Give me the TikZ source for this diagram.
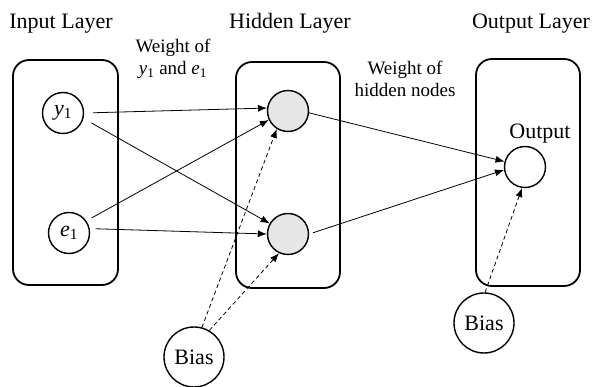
\documentclass[tikz,border=0pt]{standalone}
\usepackage{fontspec}
\setmainfont{Liberation Serif}
\usetikzlibrary{arrows.meta}
\definecolor{hidgray}{HTML}{E6E6E6}
\begin{document}
\begin{tikzpicture}[x=1pt,y=-1pt,
  layerbox/.style={draw, line width=1.8pt, rounded corners=16pt, minimum width=104pt, minimum height=226pt, inner sep=0pt},
  unit/.style={circle, draw, line width=1.4pt, minimum size=41pt, inner sep=0pt, font=\fontsize{22}{24}\selectfont},
  hid/.style={unit, fill=hidgray},
  biasnode/.style={circle, draw, line width=1.4pt, minimum size=60pt, inner sep=0pt, font=\fontsize{22}{24}\selectfont},
  title/.style={anchor=base, font=\fontsize{22}{24}\selectfont, inner sep=0pt},
  lab/.style={anchor=base, align=center, font=\fontsize{19}{22}\selectfont, inner sep=0pt},
  conn/.style={line width=0.8pt, -{Latex[length=9pt,width=7pt]}},
  bconn/.style={conn, dash pattern=on 4pt off 3pt}]
\useasboundingbox (0,0) rectangle (595,387);

% layer boxes
\node[layerbox, minimum width=105pt, minimum height=225pt] (inbox) at (65.5,172.5) {};
\node[layerbox] (hidbox) at (288,175) {};
\node[layerbox, minimum height=227pt] (outbox) at (528,172.5) {};

% titles
\node[title] (tin) at (61,29) {Input Layer};
\node[title] (thid) at (290,29) {Hidden Layer};
\node[title] (tout) at (531,29) {Output Layer};

% nodes
\node[unit] (y1) at (63,113) {\itshape y\textsubscript{\upshape 1}};
\node[unit] (e1) at (69,233) {\itshape e\textsubscript{\upshape 1}};
\node[hid] (h1) at (288,111) {};
\node[hid] (h2) at (288,234) {};
\node[unit] (o) at (525,167) {};
\node[biasnode] (b1) at (194,357) {Bias};
\node[biasnode] (b2) at (484,323) {Bias};

% labels
\node[lab] (w1) at (173,75) {Weight of\\{\itshape y}\textsubscript{1} and {\itshape e}\textsubscript{1}};
\node[lab] (w2) at (405,97) {Weight of\\hidden nodes};
\node[title] (olab) at (540,139) {Output};

% connectors
\draw[conn, shorten <=9pt] (y1.0) -- (h1.172);
\draw[conn, shorten <=9pt] (y1.-15) -- (h2.150);
\draw[conn, shorten <=6pt] (e1.35) -- (h1.205);
\draw[conn, shorten <=6pt] (e1.12) -- (h2.180);
\draw[conn] (h1.-5) -- (o.165);
\draw[conn, shorten <=4pt] (h2.0) -- (o.188);
\draw[bconn] (b1.75) -- (h1.238);
\draw[bconn] (b1.60) -- (h2.245);
\draw[bconn] (b2.88) -- (o.262);
\end{tikzpicture}
\end{document}
